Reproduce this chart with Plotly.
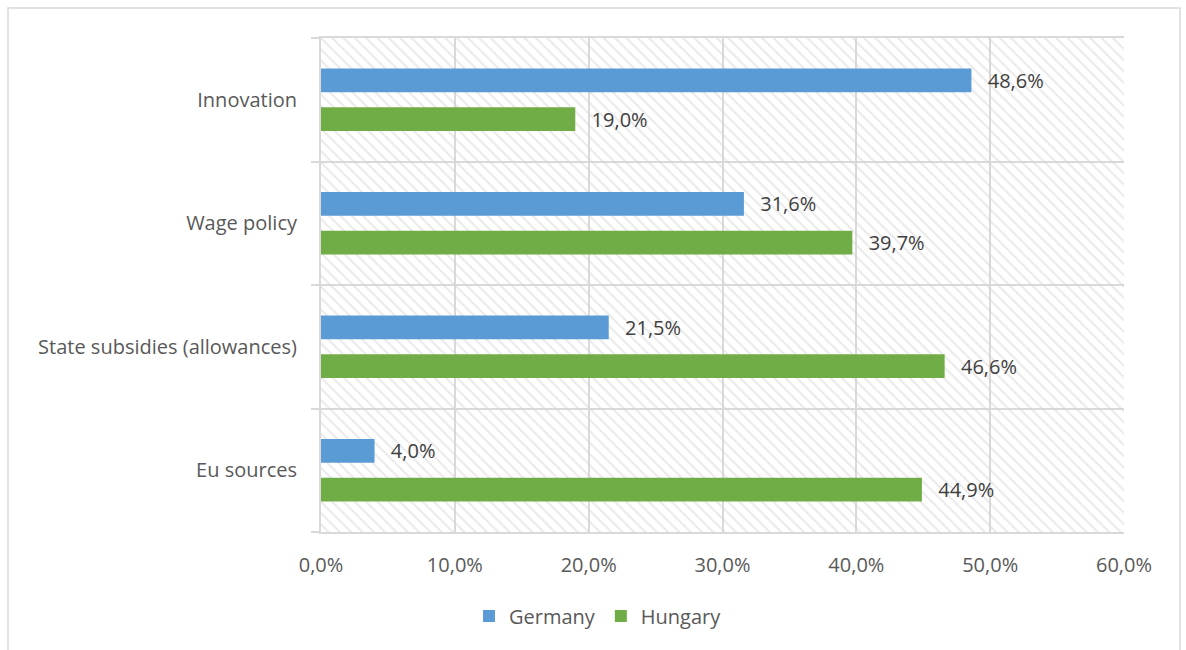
import plotly.graph_objects as go

categories = ["Innovation", "Wage policy", "State subsidies (allowances)", "Eu sources"]
germany = [48.6, 31.6, 21.5, 4.0]
hungary = [19.0, 39.7, 46.6, 44.9]
x_ticks = [0, 10, 20, 30, 40, 50, 60]
x_ticktext = ["0,0%", "10,0%", "20,0%", "30,0%", "40,0%", "50,0%", "60,0%"]

X_MAX = 60
FONT = "Open Sans"
GRID = "#d9d9d9"
pos = list(range(len(categories)))

def fmt(v):
    return "\u2002\u2009" + f"{v:.1f}".replace(".", ",") + "%"

fig = go.Figure()
# hatched plot-area background
fig.add_trace(go.Bar(
    y=pos, x=[X_MAX] * len(pos), orientation="h", width=1, base=0,
    marker=dict(color="rgba(0,0,0,0)", line=dict(width=0),
                pattern=dict(shape="\\", fgcolor="#d4d4d4", bgcolor="rgba(0,0,0,0)",
                             size=8, solidity=0.25)),
    showlegend=False, hoverinfo="skip"))

BW = 0.194
fig.add_trace(go.Bar(
    name="Germany", y=pos, x=germany, orientation="h", width=BW, offset=-0.254,
    marker=dict(color="#5B9BD5", line=dict(width=0)),
    text=[fmt(v) for v in germany], textposition="outside", cliponaxis=False,
    constraintext="none",
    textfont=dict(family=FONT, size=20, color="#404040")))
fig.add_trace(go.Bar(
    name="Hungary", y=pos, x=hungary, orientation="h", width=BW, offset=0.06,
    marker=dict(color="#70AD47", line=dict(width=0)),
    text=[fmt(v) for v in hungary], textposition="outside", cliponaxis=False,
    constraintext="none",
    textfont=dict(family=FONT, size=20, color="#404040")))

L, R, T, B = 321, 62, 38, 118
W, H = 1186, 650
pw, ph = W - L - R, H - T - B

fig.update_layout(
    width=W, height=H, barmode="overlay", uniformtext=dict(mode=False),
    margin=dict(l=L, r=R, t=T, b=B),
    paper_bgcolor="white", plot_bgcolor="white",
    font=dict(family=FONT, size=20, color="#595959"),
    showlegend=True,
    legend=dict(orientation="h", x=(598 - L) / pw, xanchor="center",
                y=(H - B - 616) / ph, yanchor="middle",
                font=dict(family=FONT, size=20, color="#595959"),
                traceorder="normal", itemsizing="constant"),
    xaxis=dict(range=[0, X_MAX], tickmode="array", tickvals=x_ticks, ticktext=x_ticktext,
               showgrid=True, gridcolor=GRID, gridwidth=2, zeroline=False,
               showline=True, linecolor=GRID, linewidth=2, mirror=True,
               ticks="", ticklabelstandoff=14,
               tickfont=dict(family=FONT, size=20, color="#595959")),
    yaxis=dict(range=[len(pos) - 0.5, -0.5], tickmode="array", tickvals=pos, ticktext=categories,
               showgrid=False, zeroline=False,
               showline=True, linecolor=GRID, linewidth=2,
               ticks="", ticklabelstandoff=18,
               tickfont=dict(family=FONT, size=20, color="#595959"),
               minor=dict(tickmode="array", tickvals=[p - 0.5 for p in pos] + [len(pos) - 0.5],
                          ticks="outside", ticklen=8, tickcolor=GRID, tickwidth=2,
                          showgrid=True, gridcolor=GRID, gridwidth=2)),
    shapes=[dict(type="rect", xref="paper", yref="paper",
                 x0=(8 - L) / pw, x1=(1180 - L) / pw,
                 y0=(H - B - 660) / ph, y1=(H - B - 8) / ph,
                 line=dict(color="#d9d9d9", width=1.5), fillcolor="rgba(0,0,0,0)",
                 layer="below")],
)

fig.write_html("out.html")
